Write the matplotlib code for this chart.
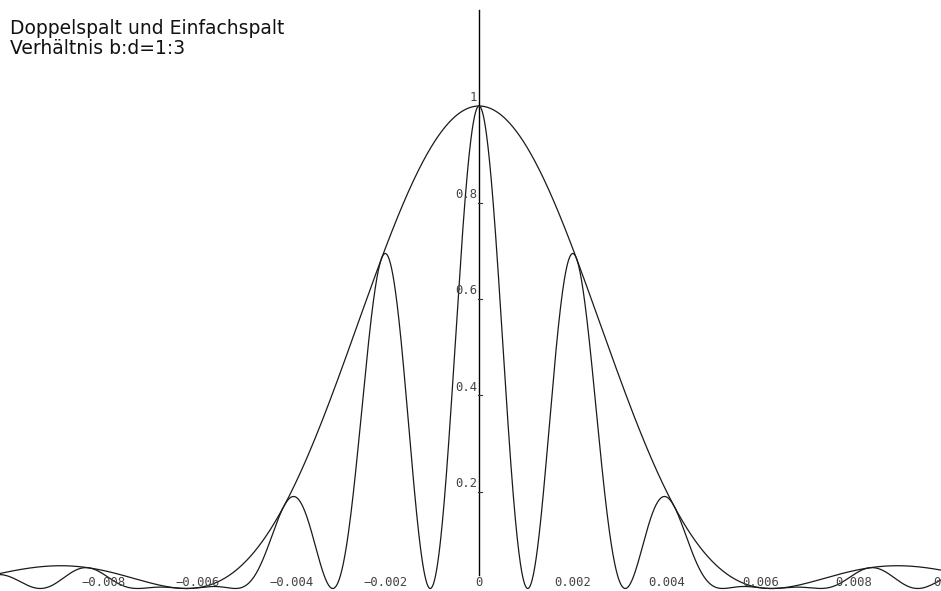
import numpy as np
import matplotlib
matplotlib.use("Agg")
import matplotlib.pyplot as plt

# slit geometry: b:d = 1:3, fringe period of the double slit on the screen axis
ratio_b = 1
ratio_d = 3
fringe_period = 0.00208
envelope_zero = fringe_period * ratio_d / ratio_b

x_ticks = [-0.008, -0.006, -0.004, -0.002, 0, 0.002, 0.004, 0.006, 0.008, 0.01]
x_labels = ["\u22120.008", "\u22120.006", "\u22120.004", "\u22120.002", "0",
            "0.002", "0.004", "0.006", "0.008", "0.01"]
y_ticks = [0.2, 0.4, 0.6, 0.8, 1]
y_labels = ["0.2", "0.4", "0.6", "0.8", "1"]

x = np.linspace(-0.0103, 0.0100, 4000)
u = x / envelope_zero
single = np.sinc(u) ** 2                       # single slit envelope
double = single * np.cos(np.pi * x / fringe_period) ** 2   # double slit

fig = plt.figure(figsize=(9.41, 5.91), dpi=100)
ax = fig.add_axes([0, 0, 1, 1])
ax.axis("off")
ax.set_xlim(-0.010219, 0.009856)
ax.set_ylim(-0.0052, 1.2197)

ax.plot(x, single, color="#1a1a1a", lw=0.9)
ax.plot(x, double, color="#1a1a1a", lw=0.9)

# vertical axis with small ticks
ax.plot([0, 0], [0.028, 1.199], color="black", lw=1.0)
for v, lab in zip(y_ticks, y_labels):
    ax.plot([-0.00002, 0.00006], [v, v], color="#333333", lw=0.8)
    ax.text(-0.00004, v + 0.004, lab, ha="right", va="bottom",
            family="DejaVu Sans Mono", fontsize=8.8, color="#444444")

for v, lab in zip(x_ticks, x_labels):
    ax.text(v, 0.0114, lab, ha="center", va="center",
            family="DejaVu Sans Mono", fontsize=8.8, color="#444444")

fig.text(10 / 941, 1 - 28 / 591, "Doppelspalt und Einfachspalt",
         ha="left", va="center", fontsize=13.5, color="#111111")
fig.text(10 / 941, 1 - 48 / 591, "Verhältnis b:d=1:3",
         ha="left", va="center", fontsize=13.5, color="#111111")

fig.savefig("out.png", dpi=100)
